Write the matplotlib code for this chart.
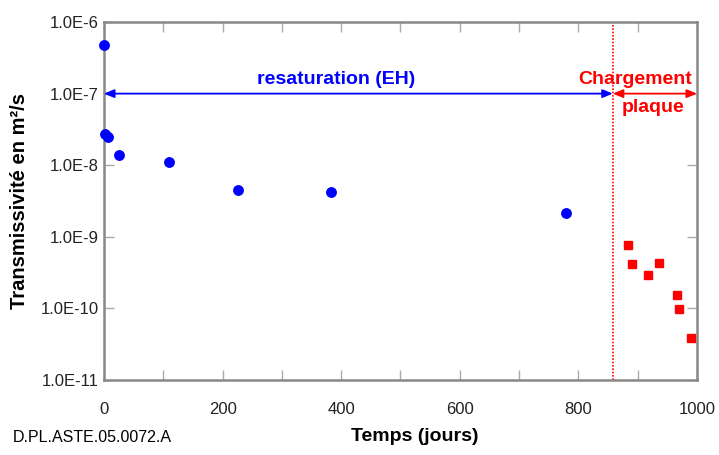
import math
import matplotlib
matplotlib.use("Agg")
import matplotlib.pyplot as plt
from matplotlib.ticker import FixedLocator, FuncFormatter

plt.rcParams['font.family'] = ['Liberation Sans', 'DejaVu Sans']

# Resaturation phase (EH)
resat_days = [0, 2, 7, 25, 110, 226, 383, 779]
resat_T = [4.8e-7, 2.7e-8, 2.45e-8, 1.4e-8, 1.1e-8, 4.5e-9, 4.2e-9, 2.15e-9]

# Plate loading phase
load_days = [884, 891, 917, 936, 966, 970, 990]
load_T = [7.7e-10, 4.2e-10, 2.9e-10, 4.3e-10, 1.55e-10, 9.8e-11, 3.9e-11]

loading_start = 858
x_ticks = [0, 200, 400, 600, 800, 1000]
x_minor = [100, 300, 500, 700, 900]
y_ticks = [1e-11, 1e-10, 1e-9, 1e-8, 1e-7, 1e-6]

fig = plt.figure(figsize=(7.19, 4.55), dpi=100)
ax = fig.add_axes([0.1446, 0.1648, 0.9694 - 0.1446, 0.9516 - 0.1648])

ax.set_yscale('log')
ax.set_xlim(0, 1000)
ax.set_ylim(1e-11, 1e-6)

ax.plot(resat_days, resat_T, 'o', color='#0000ff', markersize=6.8, clip_on=False, zorder=5)
ax.plot(load_days, load_T, 's', color='#ff0000', markersize=6, clip_on=False, zorder=5)

ax.axvline(loading_start, color='#ff0000', linestyle=(0, (1, 1)), linewidth=1.2)

# Phase arrows
arrow_style = '<|-|>,head_length=0.6,head_width=0.25'
ax.annotate('', xy=(0, 1e-7), xytext=(loading_start, 1e-7),
            arrowprops=dict(arrowstyle=arrow_style, color='#0000ff', lw=1.3,
                            shrinkA=0, shrinkB=0, mutation_scale=10))
ax.annotate('', xy=(loading_start, 1e-7), xytext=(1000, 1e-7),
            arrowprops=dict(arrowstyle=arrow_style, color='#ff0000', lw=1.3,
                            shrinkA=0, shrinkB=0, mutation_scale=10))
ax.text(391, 1.2e-7, 'resaturation (EH)', color='#0000ff', fontsize=14,
        fontweight='bold', ha='center', va='bottom')
ax.text(895, 1.2e-7, 'Chargement', color='#ff0000', fontsize=14,
        fontweight='bold', ha='center', va='bottom')
ax.text(926, 8.3e-8, 'plaque', color='#ff0000', fontsize=14,
        fontweight='bold', ha='center', va='top')

ax.xaxis.set_major_locator(FixedLocator(x_ticks))
ax.xaxis.set_minor_locator(FixedLocator(x_minor))
ax.yaxis.set_major_locator(FixedLocator(y_ticks))
ax.yaxis.set_minor_locator(FixedLocator([]))
ax.yaxis.set_major_formatter(FuncFormatter(lambda v, p: '1.0E%d' % round(math.log10(v))))

ax.tick_params(axis='both', which='both', direction='in', top=True, right=True,
               color='#aaaaaa', labelsize=12, labelcolor='#222222', length=7, width=1)
ax.tick_params(axis='x', which='both', pad=16)
ax.tick_params(axis='y', which='both', pad=4)

for s in ax.spines.values():
    s.set_color('#888888')
    s.set_linewidth(1.8)

ax.set_xlabel('Temps (jours)', fontsize=14, fontweight='bold', labelpad=8)
ax.xaxis.label.set_x(0.524)
ax.set_ylabel('Transmissivité en m²/s', fontsize=14.5, fontweight='bold', labelpad=8)

fig.text(13 / 719, 1 - 438 / 455, 'D.PL.ASTE.05.0072.A', fontsize=11.5, va='center', ha='left')

fig.savefig('out.png', dpi=100)
